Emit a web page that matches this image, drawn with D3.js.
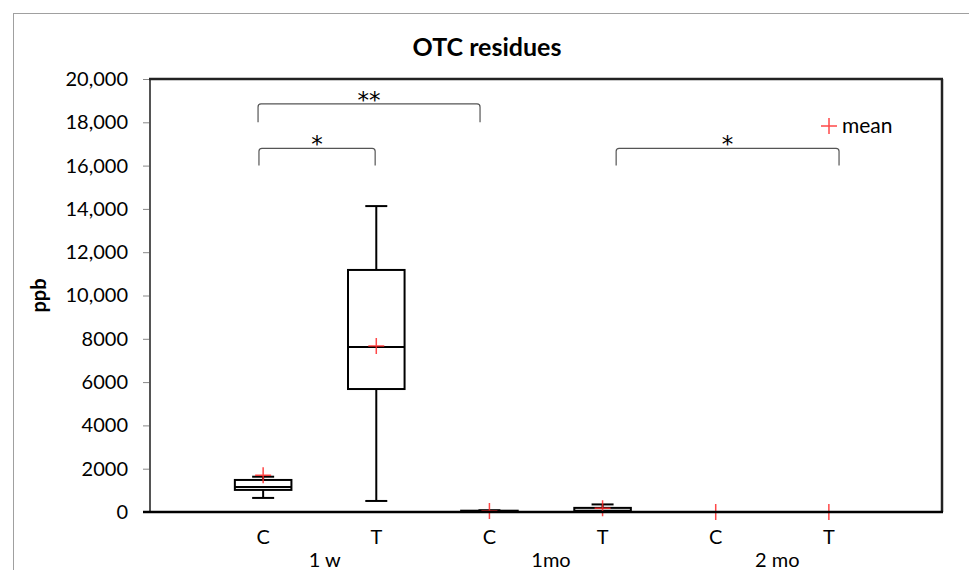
<!DOCTYPE html>
<html>
<head>
<meta charset="utf-8">
<script src="https://cdn.jsdelivr.net/npm/d3@7"></script>
<style>
  html, body { margin: 0; padding: 0; background: #fff; }
  svg { display: block; font-family: Lato, "Open Sans", sans-serif; }
</style>
</head>
<body>
<svg id="chart" width="969" height="570"></svg>
<script>
// ---------- data ----------
const groups = ["1 w", "1mo", "2 mo"];
const categories = ["C", "T", "C", "T", "C", "T"];
const whiskerLow  = [650,  510,  0,  20, 0, 0];
const q1          = [1020, 5680, 5,  30, 0, 0];
const median      = [1150, 7620, 20, 60, 0, 0];
const q3          = [1480, 11180, 60, 190, 0, 0];
const whiskerHigh = [1630, 14130, 80, 350, 0, 0];
const means       = [1700, 7670, 45, 170, 0, 0];
const yTicks = [0, 2000, 4000, 6000, 8000, 10000, 12000, 14000, 16000, 18000, 20000];
// significance brackets (positions in category-slot units, values in ppb)
const brackets = [
  { from: 0.955, to: 2.917, top: 18850, bottom: 18000, label: "**" },
  { from: 0.963, to: 1.99,  top: 16800, bottom: 16000, label: "*" },
  { from: 4.12,  to: 6.09,  top: 16800, bottom: 16000, label: "*" }
];

// ---------- layout ----------
const svg = d3.select("#chart");
const W = 969, H = 570;
const plot = { left: 150, right: 942, top: 79, bottom: 512 };

// outer chart frame
svg.append("rect").attr("x", 13.5).attr("y", 13.5)
  .attr("width", W).attr("height", H)
  .attr("fill", "#fff").attr("stroke", "#a0a0a0").attr("stroke-width", 1);

const y = d3.scaleLinear().domain([0, 20000]).range([plot.bottom, plot.top]);
const slot = d3.scaleLinear().domain([0, categories.length + 1]).range([plot.left, plot.right]);
const x = i => slot(i + 1);
const step = slot(1) - slot(0);
const boxW = step * 0.5;
const capW = 22;

// title
svg.append("text").attr("x", 487).attr("y", 56)
  .attr("text-anchor", "middle").attr("font-size", 25).attr("font-weight", "bold")
  .attr("fill", "#000").text("OTC residues");

// y axis title
svg.append("text")
  .attr("transform", `translate(46,${(plot.top + plot.bottom) / 2}) rotate(-90)`)
  .attr("text-anchor", "middle").attr("font-size", 20).attr("font-weight", "bold")
  .text("ppb");

// y axis
const fmt = v => v >= 10000 ? d3.format(",")(v) : String(v);
const yAxis = d3.axisLeft(y).tickValues(yTicks).tickFormat(fmt).tickSize(7).tickPadding(15);
const gy = svg.append("g").attr("transform", `translate(${plot.left},0)`).call(yAxis);
gy.select(".domain").remove();
gy.selectAll(".tick line").attr("stroke", "#888").attr("stroke-width", 1);
gy.selectAll(".tick text").attr("font-size", 20).attr("font-family", "Lato, sans-serif").attr("fill", "#000");

// frame lines
svg.append("line").attr("x1", plot.left).attr("x2", plot.left)
  .attr("y1", plot.top).attr("y2", plot.bottom)
  .attr("stroke", "#555").attr("stroke-width", 2);
svg.append("line").attr("x1", plot.left - 1).attr("x2", plot.right + 1)
  .attr("y1", plot.top).attr("y2", plot.top)
  .attr("stroke", "#222").attr("stroke-width", 2.5);
svg.append("line").attr("x1", plot.right).attr("x2", plot.right)
  .attr("y1", plot.top).attr("y2", plot.bottom)
  .attr("stroke", "#222").attr("stroke-width", 2.5);

// boxes
const idx = d3.range(categories.length);
const g = svg.append("g");
idx.forEach(i => {
  const cx = x(i);
  const col = "#000";
  g.append("line").attr("x1", cx).attr("x2", cx)
    .attr("y1", y(q3[i])).attr("y2", y(whiskerHigh[i])).attr("stroke", col).attr("stroke-width", 2);
  g.append("line").attr("x1", cx).attr("x2", cx)
    .attr("y1", y(q1[i])).attr("y2", y(whiskerLow[i])).attr("stroke", col).attr("stroke-width", 2);
  g.append("line").attr("x1", cx - capW / 2).attr("x2", cx + capW / 2)
    .attr("y1", y(whiskerHigh[i])).attr("y2", y(whiskerHigh[i])).attr("stroke", col).attr("stroke-width", 2);
  g.append("line").attr("x1", cx - capW / 2).attr("x2", cx + capW / 2)
    .attr("y1", y(whiskerLow[i])).attr("y2", y(whiskerLow[i])).attr("stroke", col).attr("stroke-width", 2);
  g.append("rect").attr("x", cx - boxW / 2).attr("width", boxW)
    .attr("y", y(q3[i])).attr("height", Math.max(0, y(q1[i]) - y(q3[i])))
    .attr("fill", "#fff").attr("stroke", col).attr("stroke-width", 2);
  g.append("line").attr("x1", cx - boxW / 2).attr("x2", cx + boxW / 2)
    .attr("y1", y(median[i])).attr("y2", y(median[i])).attr("stroke", col).attr("stroke-width", 2);
});

// x axis (drawn over zero-height boxes)
svg.append("line").attr("x1", plot.left - 7).attr("x2", plot.right + 1)
  .attr("y1", plot.bottom).attr("y2", plot.bottom)
  .attr("stroke", "#000").attr("stroke-width", 2.5);

// mean markers
const red = "rgba(255,40,40,0.85)";
idx.forEach(i => {
  const cx = x(i), cy = y(means[i]);
  g.append("path").attr("d", `M${cx - 8},${cy}H${cx + 8}M${cx},${cy - 8}V${cy + 8}`)
    .attr("stroke", red).attr("stroke-width", 1.5).attr("fill", "none");
});

// category labels
svg.append("g").selectAll("text").data(idx).join("text")
  .attr("x", i => x(i)).attr("y", 544)
  .attr("text-anchor", "middle").attr("font-size", 20).text(i => categories[i]);
// group labels
svg.append("g").selectAll("text").data(groups).join("text")
  .attr("x", (d, k) => (x(2 * k) + x(2 * k + 1)) / 2 + 5).attr("y", 567)
  .attr("text-anchor", "middle").attr("font-size", 20).text(d => d);

// brackets
brackets.forEach(b => {
  const x1 = slot(b.from), x2 = slot(b.to), yt = y(b.top), yb = y(b.bottom);
  const r = 3;
  svg.append("path")
    .attr("d", `M${x1},${yb}V${yt + r}Q${x1},${yt} ${x1 + r},${yt}H${x2 - r}Q${x2},${yt} ${x2},${yt + r}V${yb}`)
    .attr("fill", "none").attr("stroke", "#555").attr("stroke-width", 1.2);
  svg.append("text").attr("x", (x1 + x2) / 2).attr("y", yt + 4)
    .attr("text-anchor", "middle").attr("font-size", 23)
    .attr("font-family", "'DejaVu Sans', sans-serif").text(b.label);
});

// legend
svg.append("path").attr("d", "M821,126H837M829,118V134")
  .attr("stroke", red).attr("stroke-width", 1.5);
svg.append("text").attr("x", 842).attr("y", 133).attr("font-size", 21).text("mean");
</script>
</body>
</html>
